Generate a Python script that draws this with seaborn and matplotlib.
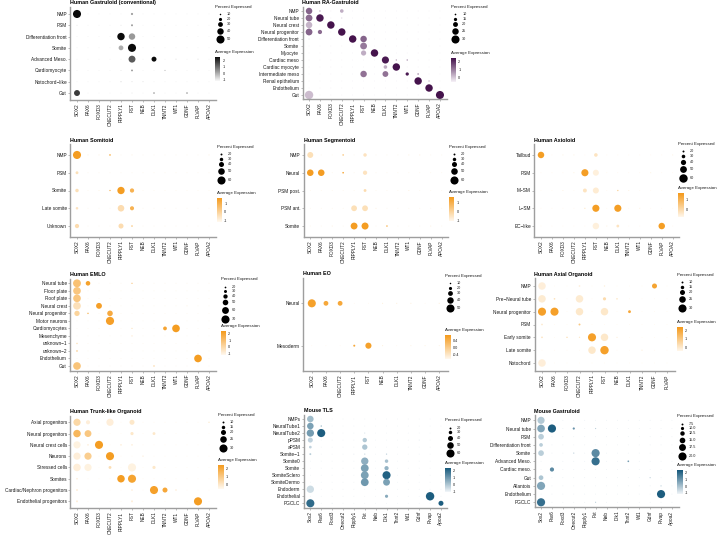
import numpy as np
import pandas as pd
import matplotlib
matplotlib.use("Agg")
import matplotlib.pyplot as plt
import seaborn as sns
from matplotlib.colors import LinearSegmentedColormap, Normalize
from matplotlib.cm import ScalarMappable

# ---------------------------------------------------------------- data
GENES_HS = ["SOX2", "PAX6", "FOXD3", "ONECUT2", "RIPPLY1", "FST", "NEB", "DLK1",
            "TNNT2", "WT1", "GDNF", "PLVAP", "APOA2"]
GENES_EO = ["SOX2", "PAX6", "ONECUT2", "RIPPLY1", "FST", "NEB", "DLK1", "TNNT2",
            "GDNF", "APOA2"]
GENES_AXO = ["SOX2", "PAX6", "FOXD3", "ONECUT2", "RIPPLY1", "FST", "NEB", "DLK1",
             "TNNT2", "GDNF", "PLVAP"]
GENES_MM = ["Sox2", "Pax6", "Foxd3", "Onecut2", "Ripply1", "Fst", "Neb", "Dlk1",
            "Tnnt2", "Wt1", "Gdnf", "Plvap", "Apoa2"]

CONV_ROWS = ["NMP", "PSM", "Differentiation front", "Somite", "Advanced Meso.",
             "Cardiomyocyte", "Notochord\u2212like", "Gut"]
CONV_PCT = [
    [50, 5, 5, 5, 5, 14, 5, 5, 5, 5, 5, 5, 5],
    [6, 5, 5, 5, 6, 13, 5, 5, 5, 5, 5, 5, 5],
    [5, 5, 5, 5, 46, 40, 5, 5, 5, 5, 5, 5, 5],
    [5, 5, 5, 5, 30, 50, 5, 5, 5, 5, 5, 5, 5],
    [5, 5, 5, 5, 5, 43, 5, 31, 5, 6, 5, 6, 5],
    [5, 5, 5, 5, 6, 12, 5, 5, 8, 5, 5, 5, 5],
    [5, 5, 5, 5, 7, 6, 6, 5, 5, 5, 5, 5, 5],
    [37, 5, 5, 5, 5, 6, 5, 9, 5, 5, 9, 5, 5],
]
CONV_EXPR = [
    [2.6, -1.0, -1.0, -1.0, -1.0, 0.2, -1.0, -1.0, -1.0, -1.0, -1.0, -1.0, -1.0],
    [-0.8, -1.0, -1.0, -1.0, -0.8, 0.2, -1.0, -1.0, -1.0, -1.0, -1.0, -1.0, -1.0],
    [-1.0, -1.0, -1.0, -1.0, 2.6, 0.3, -1.0, -1.0, -1.0, -1.0, -1.0, -1.0, -1.0],
    [-1.0, -1.0, -1.0, -1.0, 0.0, 2.6, -1.0, -1.0, -1.0, -1.0, -1.0, -1.0, -1.0],
    [-1.0, -1.0, -1.0, -1.0, -1.0, 1.3, -1.0, 2.6, -1.0, -0.5, -1.0, -0.5, -1.0],
    [-1.0, -1.0, -1.0, -1.0, -0.8, 0.3, -1.0, -1.0, -0.3, -1.0, -1.0, -1.0, -1.0],
    [-1.0, -1.0, -1.0, -1.0, -0.6, -0.6, -0.6, -1.0, -1.0, -1.0, -1.0, -1.0, -1.0],
    [1.8, -1.0, -1.0, -1.0, -1.0, -0.8, -1.0, 0.9, -1.0, -1.0, 0.9, -1.0, -1.0],
]

RA_ROWS = ["NMP", "Neural tube", "Neural crest", "Neural progenitor",
           "Differentiation front", "Somite", "Myocyte", "Cardiac meso",
           "Cardiac myocyte", "Intermediate meso", "Renal epithelium",
           "Endothelium", "Gut"]
RA_PCT = [
    [25, 9, 7, 16, 7, 7, 7, 7, 7, 7, 7, 7, 7],
    [26, 28, 7, 8, 7, 7, 7, 7, 7, 7, 7, 7, 7],
    [25, 7, 28, 7, 7, 7, 7, 7, 7, 7, 7, 7, 7],
    [26, 18, 7, 28, 7, 7, 7, 7, 7, 7, 7, 7, 7],
    [8, 7, 7, 7, 28, 25, 7, 7, 7, 7, 7, 7, 7],
    [7, 7, 7, 7, 7, 26, 7, 7, 7, 7, 7, 7, 7],
    [7, 7, 7, 7, 7, 21, 28, 7, 7, 7, 7, 7, 7],
    [7, 7, 7, 7, 7, 7, 7, 27, 9, 9, 7, 7, 7],
    [7, 7, 7, 7, 7, 7, 7, 16, 28, 7, 7, 7, 7],
    [7, 7, 7, 7, 7, 25, 7, 23, 7, 15, 10, 7, 7],
    [7, 7, 7, 7, 7, 7, 7, 7, 7, 7, 28, 9, 7],
    [7, 7, 7, 7, 7, 7, 7, 7, 7, 7, 7, 28, 7],
    [31, 7, 7, 7, 7, 7, 7, 7, 7, 7, 7, 7, 30],
]
RA_EXPR = [
    [1.3, 0.5, -0.5, 0.3, -0.5, -0.5, -0.5, -0.5, -0.5, -0.5, -0.5, -0.5, -0.5],
    [1.2, 2.3, -0.5, 0.0, -0.5, -0.5, -0.5, -0.5, -0.5, -0.5, -0.5, -0.5, -0.5],
    [0.2, -0.5, 2.4, -0.5, -0.5, -0.5, -0.5, -0.5, -0.5, -0.5, -0.5, -0.5, -0.5],
    [1.3, 1.2, -0.5, 2.4, -0.5, -0.5, -0.5, -0.5, -0.5, -0.5, -0.5, -0.5, -0.5],
    [-0.3, -0.5, -0.5, -0.5, 2.4, 1.3, -0.5, -0.5, -0.5, -0.5, -0.5, -0.5, -0.5],
    [-0.5, -0.5, -0.5, -0.5, -0.5, 1.0, -0.5, -0.5, -0.5, -0.5, -0.5, -0.5, -0.5],
    [-0.5, -0.5, -0.5, -0.5, -0.5, 0.3, 2.4, -0.5, -0.5, -0.5, -0.5, -0.5, -0.5],
    [-0.5, -0.5, -0.5, -0.5, -0.5, -0.5, -0.5, 2.3, 0.5, 0.8, -0.5, -0.5, -0.5],
    [-0.5, -0.5, -0.5, -0.5, -0.5, -0.5, -0.5, 0.3, 2.4, -0.5, -0.5, -0.5, -0.5],
    [-0.5, -0.5, -0.5, -0.5, -0.5, 1.1, -0.5, 1.1, -0.5, 2.3, 0.6, -0.5, -0.5],
    [-0.5, -0.5, -0.5, -0.5, -0.5, -0.5, -0.5, -0.5, -0.5, -0.5, 2.4, 0.3, -0.5],
    [-0.5, -0.5, -0.5, -0.5, -0.5, -0.5, -0.5, -0.5, -0.5, -0.5, -0.5, 2.4, -0.5],
    [0.1, -0.5, -0.5, -0.5, -0.5, -0.5, -0.5, -0.5, -0.5, -0.5, -0.5, -0.5, 2.4],
]

SOMI_ROWS = ["NMP", "PSM", "Somite", "Late somite", "Unknown"]
SOMI_PCT = [
    [60, 13, 13, 18, 12, 13, 12, 12, 12, 12, 12, 12, 13],
    [26, 12, 12, 12, 12, 12, 12, 12, 12, 12, 12, 12, 12],
    [30, 12, 13, 16, 55, 35, 12, 12, 12, 12, 12, 12, 12],
    [24, 12, 12, 12, 50, 34, 12, 12, 12, 12, 12, 12, 12],
    [35, 12, 12, 12, 40, 17, 12, 12, 12, 12, 12, 12, 12],
]
SOMI_EXPR = [
    [1.5, -0.7, -0.7, 1.0, -0.9, -0.7, -0.9, -0.9, -0.9, -0.9, -0.9, -0.9, -0.7],
    [-0.4, -0.9, -0.9, -0.9, -0.9, -0.9, -0.9, -0.9, -0.9, -0.9, -0.9, -0.9, -0.9],
    [-0.4, -0.9, -0.8, 0.9, 1.5, 0.9, -0.9, -0.9, -0.9, -0.9, -0.9, -0.9, -0.9],
    [-0.5, -0.9, -0.9, -0.9, -0.3, 0.9, -0.9, -0.9, -0.9, -0.9, -0.9, -0.9, -0.9],
    [-0.3, -0.9, -0.9, -0.9, -0.3, 0.6, -0.9, -0.9, -0.9, -0.9, -0.9, -0.9, -0.9],
]

SEG_ROWS = ["NMP", "Neural", "PSM post.", "PSM ant.", "Somite"]
SEG_PCT = [
    [46, 12, 12, 17, 12, 30, 12, 12, 12, 13, 13, 12, 12],
    [50, 50, 12, 18, 12, 35, 12, 12, 12, 12, 12, 12, 12],
    [12, 12, 12, 12, 12, 26, 12, 12, 12, 13, 12, 12, 12],
    [12, 12, 12, 12, 45, 45, 13, 12, 12, 12, 12, 12, 12],
    [12, 12, 13, 12, 52, 53, 12, 17, 12, 12, 12, 13, 12],
]
SEG_EXPR = [
    [-0.4, -0.9, -0.9, 0.6, -0.9, -0.5, -0.9, -0.9, -0.9, -0.7, -0.7, -0.9, -0.9],
    [1.5, 1.5, -0.9, 1.3, -0.9, -0.5, -0.9, -0.9, -0.9, -0.9, -0.9, -0.9, -0.9],
    [-0.9, -0.9, -0.9, -0.9, -0.9, -0.3, -0.9, -0.9, -0.9, -0.7, -0.9, -0.9, -0.9],
    [-0.9, -0.9, -0.9, -0.9, -0.4, -0.4, -0.7, -0.9, -0.9, -0.9, -0.9, -0.9, -0.9],
    [-0.9, -0.9, -0.7, -0.9, 1.5, 1.5, -0.9, 1.1, -0.9, -0.9, -0.9, -0.7, -0.9],
]

AXI_ROWS = ["Tailbud", "PSM", "M\u2212SM", "L\u2212SM", "EC\u2212like"]
AXI_PCT = [
    [48, 12, 13, 13, 12, 30, 12, 12, 12, 12, 12, 12, 13],
    [12, 12, 12, 13, 52, 45, 12, 12, 12, 12, 13, 12, 12],
    [12, 12, 13, 12, 32, 45, 12, 16, 13, 12, 12, 12, 12],
    [12, 12, 12, 12, 14, 52, 12, 52, 12, 13, 12, 12, 12],
    [12, 12, 12, 12, 12, 48, 13, 25, 12, 12, 12, 48, 12],
]
AXI_EXPR = [
    [1.5, -0.6, -0.4, -0.4, -0.6, -0.2, -0.6, -0.6, -0.6, -0.6, -0.6, -0.6, -0.4],
    [-0.6, -0.6, -0.6, -0.4, 1.5, -0.5, -0.6, -0.6, -0.6, -0.6, -0.4, -0.6, -0.6],
    [-0.6, -0.6, -0.4, -0.6, -0.2, -0.4, -0.6, 0.3, -0.4, -0.6, -0.6, -0.6, -0.6],
    [-0.6, -0.6, -0.6, -0.6, 0.0, 1.5, -0.6, 1.5, -0.6, -0.4, -0.6, -0.6, -0.6],
    [-0.6, -0.6, -0.6, -0.6, -0.6, -0.5, -0.4, -0.2, -0.6, -0.6, -0.6, 1.5, -0.6],
]

EMLO_ROWS = ["Neural tube", "Floor plate", "Roof plate", "Neural crest",
             "Neural progenitor", "Motor neurons", "Cardiomyocytes", "Mesenchyme",
             "unknown\u22121", "unknown\u22122", "Endothelium", "Gut"]
EMLO_PCT = [
    [68, 42, 12, 12, 12, 16, 12, 12, 12, 12, 12, 12, 12],
    [66, 12, 12, 12, 12, 12, 12, 12, 12, 12, 12, 12, 12],
    [66, 12, 12, 12, 12, 12, 12, 12, 12, 12, 12, 12, 12],
    [66, 12, 52, 12, 12, 12, 12, 12, 12, 12, 13, 12, 12],
    [48, 18, 12, 50, 12, 12, 12, 12, 12, 12, 12, 12, 12],
    [12, 12, 12, 70, 12, 12, 12, 12, 12, 12, 12, 12, 12],
    [12, 12, 12, 12, 12, 16, 12, 12, 36, 66, 12, 12, 12],
    [12, 12, 12, 12, 12, 16, 12, 12, 12, 12, 12, 12, 12],
    [18, 12, 12, 12, 12, 12, 12, 12, 12, 12, 12, 12, 12],
    [21, 12, 12, 12, 12, 12, 12, 12, 12, 12, 12, 12, 12],
    [12, 12, 12, 12, 12, 12, 12, 12, 12, 12, 12, 66, 12],
    [66, 12, 12, 12, 12, 12, 12, 16, 12, 12, 12, 12, 12],
]
EMLO_EXPR = [
    [0.9, 2.1, -1.0, -1.0, -1.0, 1.0, -1.0, -1.0, -1.0, -1.0, -1.0, -1.0, -1.0],
    [0.7, -1.0, -1.0, -1.0, -1.0, -1.0, -1.0, -1.0, -1.0, -1.0, -1.0, -1.0, -1.0],
    [0.7, -1.0, -1.0, -1.0, -1.0, -1.0, -1.0, -1.0, -1.0, -1.0, -1.0, -1.0, -1.0],
    [-0.3, -1.0, 2.2, -1.0, -1.0, -1.0, -1.0, -1.0, -1.0, -1.0, -0.7, -1.0, -1.0],
    [0.2, 1.3, -1.0, 1.8, -1.0, -1.0, -1.0, -1.0, -1.0, -1.0, -1.0, -1.0, -1.0],
    [-1.0, -1.0, -1.0, 2.2, -1.0, -1.0, -1.0, -1.0, -1.0, -1.0, -1.0, -1.0, -1.0],
    [-1.0, -1.0, -1.0, -1.0, -1.0, -0.3, -1.0, -1.0, 2.0, 2.3, -1.0, -1.0, -1.0],
    [-1.0, -1.0, -1.0, -1.0, -1.0, -0.5, -1.0, -1.0, -1.0, -1.0, -1.0, -1.0, -1.0],
    [-0.3, -1.0, -1.0, -1.0, -1.0, -1.0, -1.0, -1.0, -1.0, -1.0, -1.0, -1.0, -1.0],
    [0.0, -1.0, -1.0, -1.0, -1.0, -1.0, -1.0, -1.0, -1.0, -1.0, -1.0, -1.0, -1.0],
    [-1.0, -1.0, -1.0, -1.0, -1.0, -1.0, -1.0, -1.0, -1.0, -1.0, -1.0, 2.3, -1.0],
    [0.8, -1.0, -1.0, -1.0, -1.0, -1.0, -1.0, 0.9, -1.0, -1.0, -1.0, -1.0, -1.0],
]

EO_ROWS = ["Neural", "Mesoderm"]
EO_PCT = [
    [50, 30, 30, 5, 5, 7, 7, 7, 5, 7],
    [5, 5, 5, 13, 38, 7, 5, 6, 6, 6],
]
EO_EXPR = [
    [0.6, 0.5, 0.5, -0.6, -0.6, -0.5, -0.5, -0.5, -0.6, -0.5],
    [-0.6, -0.6, -0.6, 0.5, 0.6, -0.5, -0.6, -0.5, -0.5, -0.5],
]

AXO_ROWS = ["NMP", "Pre\u2212Neural tube", "Neural progenitor", "PSM",
            "Early somite", "Late somite", "Notochord"]
AXO_PCT = [
    [28, 6, 6, 9, 6, 8, 6, 6, 6, 20, 6],
    [28, 9, 6, 28, 6, 14, 9, 6, 6, 6, 6],
    [30, 30, 6, 28, 6, 28, 6, 13, 6, 6, 6],
    [9, 6, 6, 10, 6, 6, 6, 6, 6, 6, 6],
    [9, 6, 8, 8, 30, 28, 7, 6, 6, 6, 6],
    [6, 6, 6, 6, 28, 31, 6, 6, 7, 6, 6],
    [28, 6, 6, 6, 6, 6, 6, 6, 6, 6, 6],
]
AXO_EXPR = [
    [-0.2, -0.4, -0.4, -0.2, -0.4, -0.2, -0.4, -0.4, -0.4, 2.1, -0.4],
    [-0.1, 0.2, -0.4, -0.1, -0.4, 0.4, 0.0, -0.4, -0.4, -0.4, -0.4],
    [2.2, 2.2, -0.4, 0.0, -0.4, 0.0, -0.4, 2.0, -0.4, -0.4, -0.4],
    [0.0, -0.4, -0.4, 1.0, -0.4, -0.4, -0.4, -0.4, -0.4, -0.4, -0.4],
    [0.2, -0.4, 0.5, 0.0, 2.2, 0.0, 0.0, -0.4, -0.4, -0.4, -0.4],
    [-0.4, -0.4, -0.4, -0.4, 0.0, 2.2, -0.4, -0.4, 0.0, -0.4, -0.4],
    [-0.2, -0.4, -0.4, -0.4, -0.4, -0.4, -0.4, -0.4, -0.4, -0.4, -0.4],
]

TLO_ROWS = ["Axial progenitors", "Neural progenitors", "Neural crest cells",
            "Neurons", "Stressed cells", "Somites",
            "Cardiac/Nephron progenitors", "Endothelial progenitors"]
TLO_PCT = [
    [27, 17, 6, 27, 6, 20, 6, 6, 6, 6, 6, 6, 8],
    [28, 26, 6, 6, 6, 14, 6, 13, 6, 6, 6, 6, 6],
    [27, 9, 30, 6, 9, 9, 6, 6, 6, 6, 6, 6, 6],
    [27, 27, 6, 30, 6, 6, 8, 6, 6, 6, 6, 6, 6],
    [28, 27, 6, 13, 6, 30, 6, 14, 6, 6, 6, 6, 6],
    [9, 6, 6, 6, 28, 30, 6, 6, 6, 6, 6, 6, 6],
    [10, 6, 6, 6, 6, 9, 6, 30, 20, 9, 6, 6, 6],
    [10, 6, 6, 6, 6, 10, 6, 6, 6, 6, 6, 30, 6],
]
TLO_EXPR = [
    [0.5, -0.2, -0.4, -0.2, -0.4, 0.0, -0.4, -0.4, -0.4, -0.4, -0.4, -0.4, 0.0],
    [1.5, 1.0, -0.4, -0.4, -0.4, 0.0, -0.4, 0.0, -0.4, -0.4, -0.4, -0.4, -0.4],
    [-0.3, -0.2, 2.3, -0.4, -0.2, -0.2, -0.4, -0.4, -0.4, -0.4, -0.4, -0.4, -0.4],
    [-0.2, 0.8, -0.4, 2.3, -0.4, -0.4, -0.2, -0.4, -0.4, -0.4, -0.4, -0.4, -0.4],
    [-0.2, -0.3, -0.4, 0.3, -0.4, -0.3, -0.4, 0.0, -0.4, -0.4, -0.4, -0.4, -0.4],
    [-0.2, -0.4, -0.4, -0.4, 2.3, 2.1, -0.4, -0.4, -0.4, -0.4, -0.4, -0.4, -0.4],
    [-0.2, -0.4, -0.4, -0.4, -0.4, -0.2, -0.4, 2.2, 2.0, -0.2, -0.4, -0.4, -0.4],
    [-0.2, -0.4, -0.4, -0.4, -0.4, -0.2, -0.4, -0.4, -0.4, -0.4, -0.4, 2.3, -0.4],
]

TLS_ROWS = ["NMPs", "NeuralTube1", "NeuralTube2", "pPSM", "aPSM", "Somite\u22121",
            "Somite0", "Somite", "SomiteSclero", "SomiteDermo", "Endoderm",
            "Endothelial", "PGCLC"]
TLS_PCT = [
    [50, 12, 12, 12, 12, 12, 12, 12, 12, 12, 12, 12, 12],
    [50, 15, 12, 12, 12, 12, 12, 12, 12, 12, 12, 12, 12],
    [55, 60, 12, 12, 12, 14, 12, 12, 12, 12, 12, 12, 12],
    [40, 12, 12, 12, 12, 36, 12, 12, 12, 12, 13, 12, 12],
    [25, 12, 12, 12, 12, 42, 12, 12, 12, 12, 12, 12, 12],
    [20, 12, 12, 12, 13, 16, 12, 16, 12, 12, 12, 12, 12],
    [12, 12, 12, 12, 12, 55, 12, 30, 12, 12, 12, 12, 12],
    [12, 12, 12, 12, 12, 58, 12, 35, 12, 12, 12, 12, 12],
    [12, 12, 12, 12, 12, 58, 12, 60, 12, 12, 12, 12, 12],
    [12, 12, 12, 12, 12, 58, 12, 52, 12, 12, 12, 12, 12],
    [55, 12, 12, 12, 12, 12, 12, 12, 12, 12, 12, 12, 12],
    [12, 12, 12, 12, 12, 12, 12, 28, 12, 12, 12, 62, 12],
    [60, 12, 13, 12, 12, 12, 12, 12, 12, 12, 12, 12, 40],
]
TLS_EXPR = [
    [0.2, -0.9, -0.9, -0.9, -0.9, -0.9, -0.9, -0.9, -0.9, -0.9, -0.9, -0.9, -0.9],
    [0.8, 1.0, -0.9, -0.9, -0.9, -0.9, -0.9, -0.9, -0.9, -0.9, -0.9, -0.9, -0.9],
    [0.9, 2.3, -0.9, -0.9, -0.9, -0.5, -0.9, -0.9, -0.9, -0.9, -0.9, -0.9, -0.9],
    [-0.3, -0.9, -0.9, -0.9, -0.9, -0.1, -0.9, -0.9, -0.9, -0.9, -0.7, -0.9, -0.9],
    [-0.3, -0.9, -0.9, -0.9, -0.9, 0.0, -0.9, -0.9, -0.9, -0.9, -0.9, -0.9, -0.9],
    [-0.2, -0.9, -0.9, -0.9, -0.7, -0.5, -0.9, -0.3, -0.9, -0.9, -0.9, -0.9, -0.9],
    [-0.9, -0.9, -0.9, -0.9, -0.9, 0.5, -0.9, 0.1, -0.9, -0.9, -0.9, -0.9, -0.9],
    [-0.9, -0.9, -0.9, -0.9, -0.9, 0.8, -0.9, 0.4, -0.9, -0.9, -0.9, -0.9, -0.9],
    [-0.9, -0.9, -0.9, -0.9, -0.9, 0.8, -0.9, 2.2, -0.9, -0.9, -0.9, -0.9, -0.9],
    [-0.9, -0.9, -0.9, -0.9, -0.9, 1.0, -0.9, 0.8, -0.9, -0.9, -0.9, -0.9, -0.9],
    [-0.5, -0.9, -0.9, -0.9, -0.9, -0.9, -0.9, -0.9, -0.9, -0.9, -0.9, -0.9, -0.9],
    [-0.9, -0.9, -0.9, -0.9, -0.9, -0.9, -0.9, 0.6, -0.9, -0.9, -0.9, 2.3, -0.9],
    [2.0, -0.9, -0.7, -0.9, -0.9, -0.9, -0.9, -0.9, -0.9, -0.9, -0.9, -0.9, 2.3],
]

MG_ROWS = ["NMP", "Neural tube", "PSM", "Differentiation front", "Somite",
           "Advanced Meso.", "Cardiac meso.", "Gut", "Allantois", "Endothelium",
           "PGCLC"]
MG_PCT = [
    [18, 5, 5, 5, 5, 5, 5, 5, 5, 5, 5, 5, 5],
    [19, 20, 5, 8, 5, 6, 5, 5, 5, 5, 5, 5, 5],
    [15, 5, 5, 5, 5, 5, 5, 5, 5, 5, 5, 5, 5],
    [11, 5, 5, 5, 5, 5, 5, 5, 5, 5, 5, 5, 5],
    [15, 5, 5, 6, 5, 20, 5, 5, 5, 5, 5, 5, 5],
    [5, 5, 5, 5, 5, 20, 5, 5, 7, 5, 5, 5, 5],
    [5, 12, 5, 5, 5, 5, 5, 5, 5, 5, 5, 5, 5],
    [13, 5, 5, 5, 5, 5, 5, 5, 5, 5, 6, 5, 5],
    [20, 5, 5, 5, 5, 5, 5, 5, 5, 5, 5, 6, 5],
    [5, 5, 5, 5, 5, 5, 5, 5, 5, 5, 5, 20, 5],
    [20, 5, 5, 5, 5, 6, 5, 5, 5, 5, 5, 5, 5],
]
MG_EXPR = [
    [-0.2, -0.9, -0.9, -0.9, -0.9, -0.9, -0.9, -0.9, -0.9, -0.9, -0.9, -0.9, -0.9],
    [0.6, 2.2, -0.9, 1.0, -0.9, -0.3, -0.9, -0.9, -0.9, -0.9, -0.9, -0.9, -0.9],
    [-0.3, -0.9, -0.9, -0.9, -0.9, -0.9, -0.9, -0.9, -0.9, -0.9, -0.9, -0.9, -0.9],
    [-0.3, -0.9, -0.9, -0.9, -0.9, -0.9, -0.9, -0.9, -0.9, -0.9, -0.9, -0.9, -0.9],
    [-0.3, -0.9, -0.9, -0.3, -0.9, 1.2, -0.9, -0.9, -0.9, -0.9, -0.9, -0.9, -0.9],
    [-0.9, -0.9, -0.9, -0.9, -0.9, 1.8, -0.9, -0.9, 0.8, -0.9, -0.9, -0.9, -0.9],
    [-0.9, 1.2, -0.9, -0.9, -0.9, -0.9, -0.9, -0.9, -0.9, -0.9, -0.9, -0.9, -0.9],
    [-0.1, -0.9, -0.9, -0.9, -0.9, -0.9, -0.9, -0.9, -0.9, -0.9, -0.3, -0.9, -0.9],
    [0.6, -0.9, -0.9, -0.9, -0.9, -0.9, -0.9, -0.9, -0.9, -0.9, -0.9, -0.3, -0.9],
    [-0.9, -0.9, -0.9, -0.9, -0.9, -0.9, -0.9, -0.9, -0.9, -0.9, -0.9, 2.2, -0.9],
    [1.8, -0.9, -0.9, -0.9, -0.9, -0.3, -0.9, -0.9, -0.9, -0.9, -0.9, -0.9, -0.9],
]

# legend entries
LEG_10_50 = [10, 20, 30, 40, 50]
LEG_10_30 = [10, 15, 20, 25, 30]
LEG_20_60 = [20, 30, 40, 50, 60]
LEG_20_70 = [20, 30, 40, 50, 60, 70]
LEG_MG = [7.5, 10.0, 12.5, 15.0, 17.5, 20.0]

# ---------------------------------------------------------------- style
W, H, DPI = 722, 535, 100
PX2PT = 72.0 / DPI
sns.set_theme(style="white")
plt.rcParams['font.family'] = ['Liberation Sans', 'DejaVu Sans']
plt.rcParams['axes.unicode_minus'] = False

CMAPS = {
    "grey": LinearSegmentedColormap.from_list("g", ["#f6f6f6", "#0a0a0a"]),
    "purple": LinearSegmentedColormap.from_list("p", ["#f4eff5", "#3f0c47"]),
    "orange": LinearSegmentedColormap.from_list("o", ["#fff8ee", "#f49a1c"]),
    "blue": LinearSegmentedColormap.from_list("b", ["#f2f6f9", "#17597c"]),
}
DMIN, DMAX = 0.7, 8.4

fig = plt.figure(figsize=(W / DPI, H / DPI), dpi=DPI)
fig.patch.set_facecolor("white")


def diam_px(p, p0, p1):
    return DMIN + (DMAX - DMIN) * np.clip((np.asarray(p, float) - p0) / (p1 - p0), 0, 1)


def add_axes_px(l, t, r, b):
    return fig.add_axes([l / W, 1 - b / H, (r - l) / W, (b - t) / H])


def draw_panel(rect, title, rows, genes, pct, expr, p0, p1, cmap, vmin, vmax):
    ax = add_axes_px(*rect)
    recs = []
    for i, rn in enumerate(rows):
        for j, g in enumerate(genes):
            recs.append((rn, g, pct[i][j], expr[i][j]))
    df = pd.DataFrame(recs, columns=["cluster", "gene", "pct", "expr"])
    df["area"] = (diam_px(df["pct"], p0, p1) * PX2PT) ** 2
    amin, amax = (DMIN * PX2PT) ** 2, (DMAX * PX2PT) ** 2
    sns.scatterplot(data=df, x="gene", y="cluster", size="area",
                    sizes=(amin, amax), size_norm=(amin, amax),
                    hue="expr", palette=CMAPS[cmap], hue_norm=(vmin, vmax),
                    linewidth=0, legend=False, ax=ax)
    ax.set_xlim(-0.6, len(genes) - 0.4)
    ax.set_ylim(len(rows) - 0.4, -0.6)
    ax.set_xlabel("")
    ax.set_ylabel("")
    ax.patch.set_visible(False)
    for s in ["top", "right"]:
        ax.spines[s].set_visible(False)
    for s in ["left", "bottom"]:
        ax.spines[s].set_color("#9e9e9e")
        ax.spines[s].set_linewidth(1.0)
    ax.tick_params(axis="x", rotation=90, labelsize=3.4, length=1.5, width=0.5,
                   pad=1, colors="#9e9e9e", labelcolor="#1a1a1a", bottom=True)
    ax.tick_params(axis="y", labelsize=3.4, length=1.5, width=0.5, pad=1,
                   colors="#9e9e9e", labelcolor="#1a1a1a", left=True)
    ax.set_title(title, loc="left", fontsize=3.9, fontweight="bold", pad=2,
                 color="black")
    ax.grid(False)
    return ax


def fmt_list(vals, f="{:g}"):
    return [f.format(v) for v in vals]


panels = [
    dict(rect=(70.4, 7.2, 215.6, 99.8), title="Human Gastruloid (conventional)",
         rows=CONV_ROWS, genes=GENES_HS, pct=CONV_PCT, expr=CONV_EXPR, p0=5, p1=52,
         cmap="grey", vmin=-1.2, vmax=2.6, leg=(215, 7, 51.7), vals=LEG_10_50,
         ticks=[2, 1, 0, -1]),
    dict(rect=(302.5, 6.8, 446.5, 99.2), title="Human RA-Gastruloid",
         rows=RA_ROWS, genes=GENES_HS, pct=RA_PCT, expr=RA_EXPR, p0=7, p1=31,
         cmap="purple", vmin=-0.6, vmax=2.5, leg=(450.7, 6.7, 52.7), vals=LEG_10_30,
         ticks=[2, 1, 0]),
    dict(rect=(70.4, 144.3, 215.6, 236.7), title="Human Somitoid",
         rows=SOMI_ROWS, genes=GENES_HS, pct=SOMI_PCT, expr=SOMI_EXPR, p0=12, p1=62,
         cmap="orange", vmin=-1.1, vmax=1.6, leg=(216.7, 146.7, 192.7), vals=LEG_20_60,
         ticks=[1, 0, -1]),
    dict(rect=(303.7, 144.3, 448.3, 236.7), title="Human Segmentoid",
         rows=SEG_ROWS, genes=GENES_HS, pct=SEG_PCT, expr=SEG_EXPR, p0=12, p1=62,
         cmap="orange", vmin=-1.1, vmax=1.6, leg=(449, 146.7, 192), vals=LEG_20_60,
         ticks=[1, 0, -1]),
    dict(rect=(534.4, 144.3, 679.3, 236.7), title="Human Axioloid",
         rows=AXI_ROWS, genes=GENES_HS, pct=AXI_PCT, expr=AXI_EXPR, p0=12, p1=60,
         cmap="orange", vmin=-0.7, vmax=1.6, leg=(678.3, 144, 188.3), vals=LEG_20_60,
         ticks=[1, 0]),
    dict(rect=(70.4, 278.8, 215.6, 370.5), title="Human EMLO",
         rows=EMLO_ROWS, genes=GENES_HS, pct=EMLO_PCT, expr=EMLO_EXPR, p0=12, p1=72,
         cmap="orange", vmin=-1.2, vmax=2.4, leg=(220.7, 279.3, 326), vals=LEG_20_70,
         ticks=[2, 1, 0, -1]),
    dict(rect=(303.3, 277.9, 447.7, 371.1), title="Human EO",
         rows=EO_ROWS, genes=GENES_EO, pct=EO_PCT, expr=EO_EXPR, p0=5, p1=52,
         cmap="orange", vmin=-0.65, vmax=0.7, leg=(445, 275.7, 330), vals=LEG_10_50,
         ticks=[0.4, 0.0, -0.4], tfmt="{:.1f}"),
    dict(rect=(534.5, 278.3, 674.5, 370.7), title="Human Axial Organoid",
         rows=AXO_ROWS, genes=GENES_AXO, pct=AXO_PCT, expr=AXO_EXPR, p0=6, p1=31,
         cmap="orange", vmin=-0.5, vmax=2.4, leg=(677.3, 275, 322.3), vals=LEG_10_30,
         ticks=[2, 1, 0]),
    dict(rect=(70.4, 415.5, 215.6, 508.1), title="Human Trunk-like Organoid",
         rows=TLO_ROWS, genes=GENES_HS, pct=TLO_PCT, expr=TLO_EXPR, p0=6, p1=31,
         cmap="orange", vmin=-0.5, vmax=2.4, leg=(218.3, 415, 459.7), vals=LEG_10_30,
         ticks=[2, 1, 0]),
    dict(rect=(303.8, 414.8, 447.5, 507.5), title="Mouse TLS",
         rows=TLS_ROWS, genes=GENES_MM, pct=TLS_PCT, expr=TLS_EXPR, p0=12, p1=62,
         cmap="blue", vmin=-1.1, vmax=2.4, leg=(445, 420.3, 463), vals=LEG_20_60,
         ticks=[2, 1, 0, -1]),
    dict(rect=(534.5, 415.4, 678.5, 507.2), title="Mouse Gastruloid",
         rows=MG_ROWS, genes=GENES_MM, pct=MG_PCT, expr=MG_EXPR, p0=5, p1=20.5,
         cmap="blue", vmin=-1.2, vmax=2.3, leg=(677.3, 416.3, 465.3), vals=LEG_MG,
         ticks=[2, 1, 0, -1], vfmt="{:.1f}"),
]

for P in panels:
    draw_panel(P["rect"], P["title"], P["rows"], P["genes"], P["pct"], P["expr"],
               P["p0"], P["p1"], P["cmap"], P["vmin"], P["vmax"])

# overlay for the legends, drawn on top of the panels
ov = fig.add_axes([0, 0, 1, 1])
ov.set_xlim(0, W)
ov.set_ylim(H, 0)
ov.set_axis_off()


def draw_legend(lx, ly, avg_y, values, labels, p0, p1, cmap, vmin, vmax, ticks, tlabels):
    ov.text(lx, ly, "Percent Expressed", fontsize=3.2, va="center", ha="left",
            color="#1a1a1a")
    y = ly + 5.0
    for v, lab in zip(values, labels):
        d = float(diam_px(v, p0, p1))
        h = max(4.6, d + 1.2)
        cy = y + h / 2
        ov.scatter([lx + 4.5], [cy], s=(d * PX2PT) ** 2, color="black", linewidths=0)
        ov.text(lx + 11.5, cy, lab, fontsize=2.7, va="center", ha="left",
                color="#1a1a1a")
        y += h
    ov.text(lx, avg_y, "Average Expression", fontsize=3.2, va="center", ha="left",
            color="#1a1a1a")
    cax = add_axes_px(lx, avg_y + 5, lx + 5.5, avg_y + 29)
    sm = ScalarMappable(norm=Normalize(vmin, vmax), cmap=CMAPS[cmap])
    cb = fig.colorbar(sm, cax=cax)
    cb.outline.set_visible(False)
    cb.set_ticks(ticks)
    cb.set_ticklabels(tlabels)
    cax.tick_params(labelsize=2.7, length=1.2, width=0.4, color="white",
                    direction="in", pad=1.5, labelcolor="#1a1a1a")


for P in panels:
    lx, ly, ay = P["leg"]
    draw_legend(lx, ly, ay, P["vals"], fmt_list(P["vals"], P.get("vfmt", "{:g}")),
                P["p0"], P["p1"], P["cmap"], P["vmin"], P["vmax"], P["ticks"],
                fmt_list(P["ticks"], P.get("tfmt", "{:g}")))

fig.savefig("out.png", dpi=DPI, facecolor="white")
